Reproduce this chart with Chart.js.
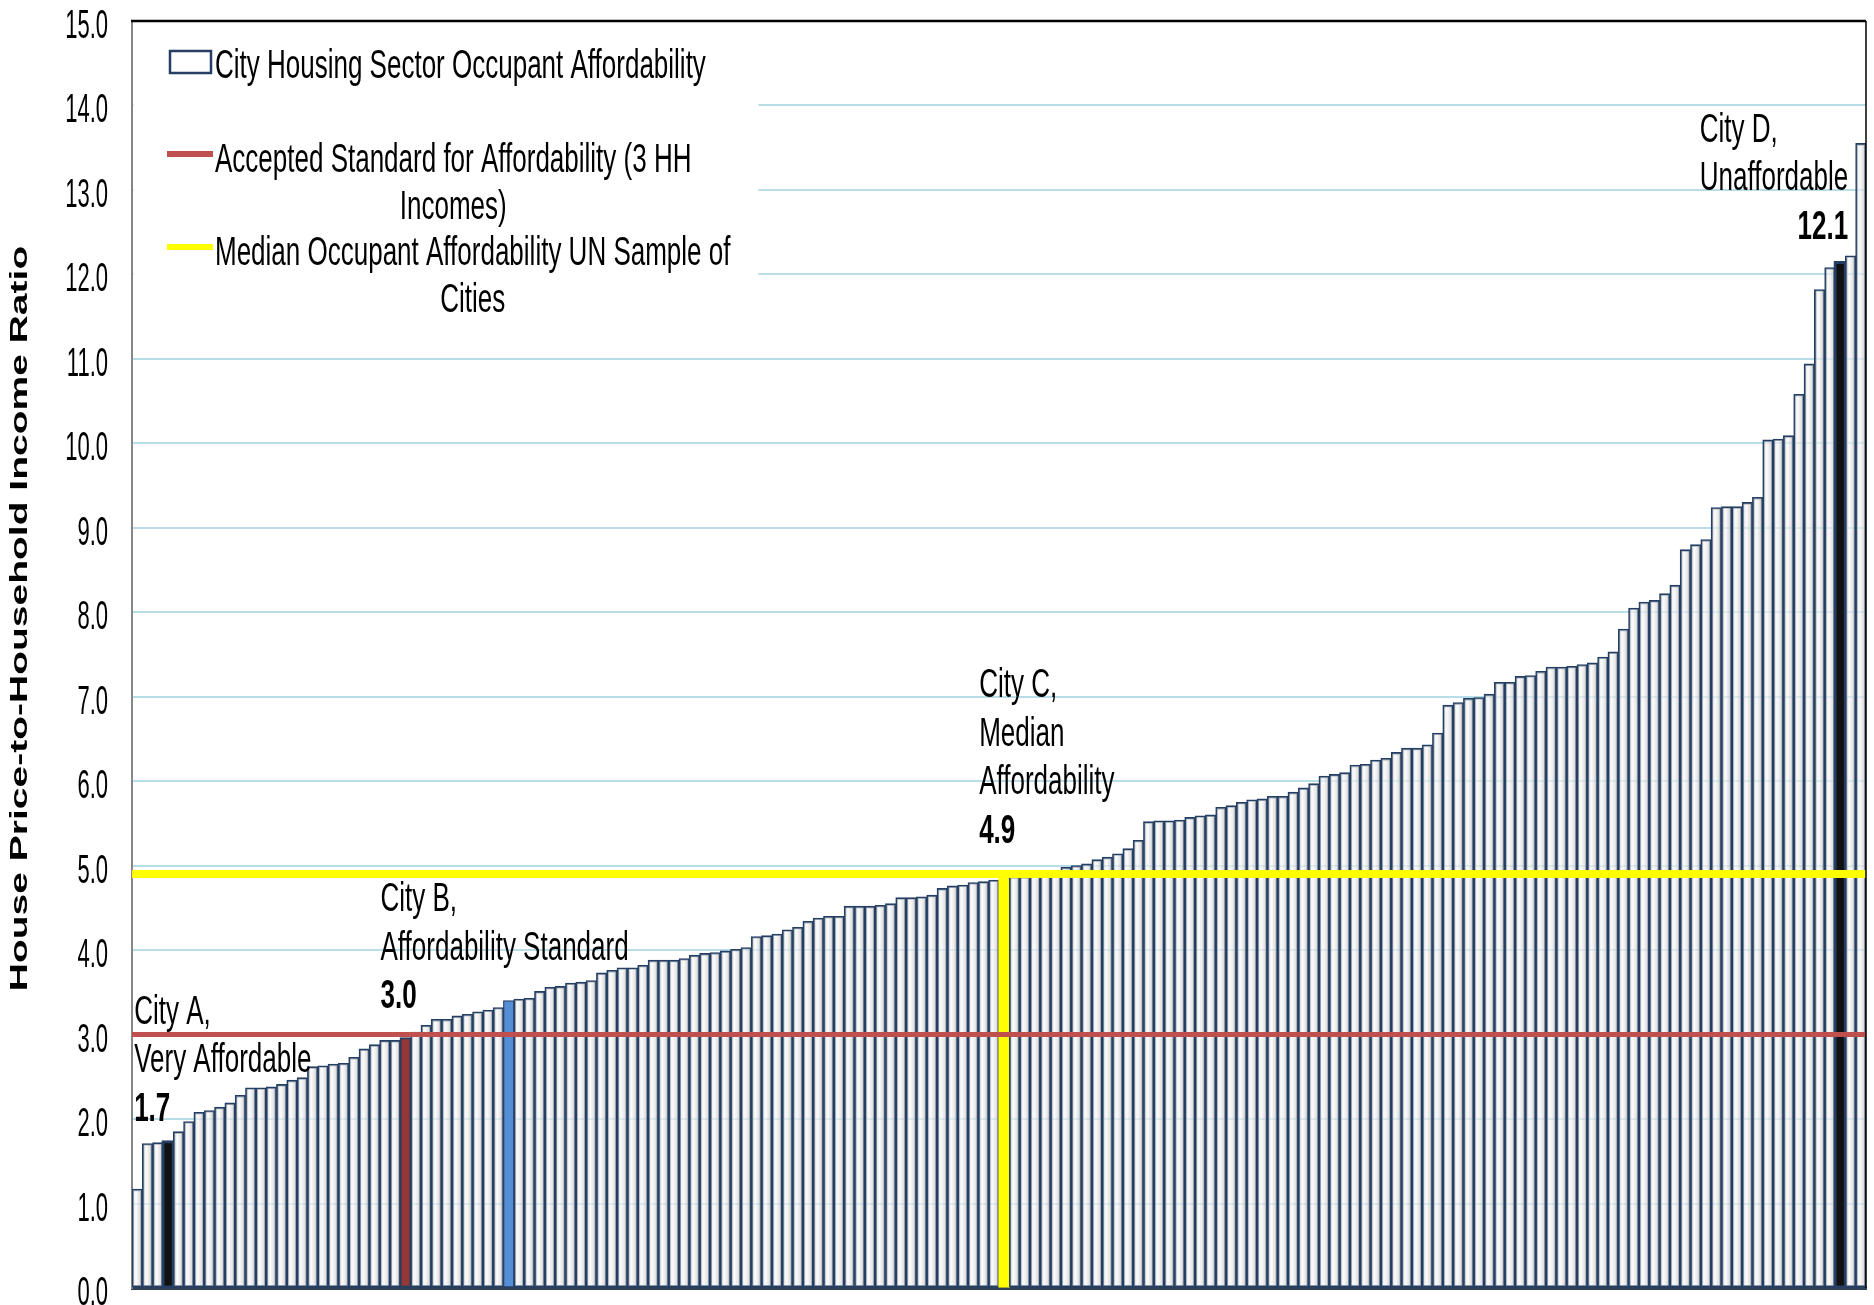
<!DOCTYPE html>
<html>
<head>
<meta charset="utf-8">
<title>House Price-to-Household Income Ratio</title>
<script src="https://cdn.jsdelivr.net/npm/chart.js@4.4.1/dist/chart.umd.min.js"></script>
<style>
  html, body { margin: 0; padding: 0; background: #ffffff; }
  #wrap { width: 1874px; height: 1305px; }
</style>
</head>
<body>
<div id="wrap"><canvas id="chart" width="1874" height="1305"></canvas></div>
<script>
// Occupant affordability of the city sample, sorted from most to least affordable
const ratios = [
  1.17, 1.71, 1.72, 1.73, 1.85, 1.97, 2.08, 2.10, 2.14, 2.19,
  2.28, 2.37, 2.37, 2.38, 2.41, 2.46, 2.49, 2.62, 2.63, 2.65,
  2.66, 2.73, 2.83, 2.88, 2.93, 2.93, 2.96, 3.03, 3.11, 3.18,
  3.18, 3.22, 3.24, 3.27, 3.29, 3.32, 3.40, 3.42, 3.43, 3.51,
  3.56, 3.57, 3.61, 3.62, 3.64, 3.73, 3.76, 3.79, 3.79, 3.82,
  3.88, 3.88, 3.88, 3.90, 3.94, 3.96, 3.97, 3.99, 4.01, 4.03,
  4.16, 4.17, 4.19, 4.24, 4.27, 4.34, 4.38, 4.40, 4.40, 4.52,
  4.52, 4.52, 4.53, 4.55, 4.62, 4.62, 4.63, 4.65, 4.73, 4.76,
  4.77, 4.80, 4.81, 4.83, 4.86, 4.87, 4.87, 4.88, 4.88, 4.89,
  4.98, 5.00, 5.02, 5.07, 5.10, 5.14, 5.20, 5.30, 5.52, 5.53,
  5.53, 5.54, 5.57, 5.59, 5.60, 5.69, 5.71, 5.75, 5.78, 5.79,
  5.82, 5.82, 5.87, 5.92, 5.97, 6.06, 6.08, 6.10, 6.19, 6.20,
  6.25, 6.27, 6.34, 6.39, 6.39, 6.43, 6.57, 6.90, 6.93, 6.98,
  6.99, 7.03, 7.17, 7.17, 7.24, 7.25, 7.30, 7.35, 7.35, 7.36,
  7.38, 7.40, 7.47, 7.53, 7.80, 8.05, 8.12, 8.14, 8.22, 8.32,
  8.74, 8.80, 8.86, 9.24, 9.25, 9.25, 9.30, 9.36, 10.04, 10.05,
  10.09, 10.58, 10.94, 11.82, 12.08, 12.14, 12.22, 13.55
];
// Rank of each city in the sorted sample (category axis)
const categories = ratios.map((_, i) => String(i + 1));

const seriesNames = [
  'City Housing Sector Occupant Affordability',
  'Accepted Standard for Affordability (3 HH Incomes)',
  'Median Occupant Affordability UN Sample of Cities'
];
const standardRatio = 3.0;
const medianRatio = 4.9;

// Named example cities (zero-based rank) and their captions
const cityRanks = [3, 26, 84, 165];
const cityNames = ['City A,', 'City B,', 'City C,', 'City D,'];
const cityNotes = [['Very Affordable'], ['Affordability Standard'], ['Median', 'Affordability'], ['Unaffordable']];
const extraMarkedRank = 36;

const yMin = 0, yMax = 15, yStep = 1;
const yTitle = 'House Price-to-Household Income Ratio';

// ---- styling -------------------------------------------------------------
const FONT = '"Liberation Sans", Arial, sans-serif';
const SQUEEZE = 0.65;
const TEXT_DROP = 4;
const NAVY = '#243f63';
const GRID = '#b7dde8';
const highlight = {};
highlight[cityRanks[0]] = { fill: '#111111', border: NAVY, width: 3, grow: 1.5 };
highlight[cityRanks[1]] = { fill: '#953735', border: NAVY, width: 2, grow: 0.8 };
highlight[cityRanks[2]] = { fill: '#ffff00', border: '#ffff00', width: 1, grow: 0.8 };
highlight[cityRanks[3]] = { fill: '#111111', border: NAVY, width: 3, grow: 1.5 };
highlight[extraMarkedRank] = { fill: '#558ed5', border: NAVY, width: 1.2, grow: 0.5 };

// caption placement relative to the bar: dx from bar centre, dy of value line from bar top
const captionPlace = [
  { dx: -34, dy: -36, align: 'left' },
  { dx: -25, dy: -45, align: 'left' },
  { dx: -25, dy: -50, align: 'left' },
  { dx: 8,   dy: -39, align: 'right' }
];

function squeezeText(ctx, str, x, y, font, align, sx) {
  ctx.save();
  ctx.font = font;
  ctx.translate(x, y + TEXT_DROP);
  ctx.scale(sx, 1);
  ctx.textAlign = align;
  ctx.textBaseline = 'middle';
  ctx.fillStyle = '#000000';
  ctx.fillText(str, 0, 0);
  ctx.restore();
}
function textWidth(ctx, str, font, sx) {
  ctx.save();
  ctx.font = font;
  const w = ctx.measureText(str).width * sx;
  ctx.restore();
  return w;
}
function wrapWords(ctx, str, font, sx, maxW) {
  const words = str.split(' ');
  const lines = [];
  let cur = '';
  words.forEach(w => {
    const t = cur ? cur + ' ' + w : w;
    if (cur && textWidth(ctx, t, font, sx) > maxW) { lines.push(cur); cur = w; }
    else cur = t;
  });
  if (cur) lines.push(cur);
  return lines;
}

function barFill(c) {
  const h = highlight[c.dataIndex];
  if (h) return h.fill;
  const chart = c.chart;
  const xs = chart.scales && chart.scales.x;
  if (!xs || !chart.chartArea) return 'rgba(232,232,232,0.6)';
  const cx = xs.getPixelForValue(c.dataIndex);
  const half = xs.width / ratios.length / 2;
  const g = chart.ctx.createLinearGradient(cx - half, 0, cx + half, 0);
  g.addColorStop(0, 'rgba(214,214,214,0.65)');
  g.addColorStop(0.4, 'rgba(248,248,248,0.65)');
  g.addColorStop(1, 'rgba(188,188,188,0.75)');
  return g;
}

const LEGEND_FONT = '40px ' + FONT;
const LABEL_FONT = '40px ' + FONT;
const VALUE_FONT = 'bold 40px ' + FONT;
const TICK_FONT = '40px ' + FONT;

const decor = {
  id: 'decor',
  beforeDatasetsDraw(chart) {
    // clear the gridlines behind the legend block
    const { ctx, chartArea: a } = chart;
    ctx.save();
    ctx.fillStyle = '#ffffff';
    ctx.fillRect(a.left + 1.5, a.top + 1.5, 757 - a.left, 330 - a.top);
    ctx.restore();
  },
  afterDraw(chart) {
    const { ctx, chartArea: a } = chart;
    const x = chart.scales.x, y = chart.scales.y;

    // frame on top and right
    ctx.save();
    ctx.strokeStyle = '#000000';
    ctx.lineWidth = 2.5;
    ctx.beginPath(); ctx.moveTo(a.left - 1, a.top); ctx.lineTo(a.right, a.top); ctx.stroke();
    ctx.lineWidth = 1.5;
    ctx.beginPath(); ctx.moveTo(a.right, a.top); ctx.lineTo(a.right, a.bottom); ctx.stroke();
    ctx.restore();

    // y tick labels
    y.ticks.forEach((t, i) => {
      squeezeText(ctx, Number(t.value).toFixed(1), a.left - 24, y.getPixelForTick(i) + 2, TICK_FONT, 'right', 0.55);
    });

    // y axis title
    ctx.save();
    ctx.translate(21, (a.top + a.bottom) / 2 - 36);
    ctx.rotate(-Math.PI / 2);
    ctx.scale(1, 0.6);
    ctx.font = 'bold 39px ' + FONT;
    ctx.textAlign = 'center';
    ctx.textBaseline = 'middle';
    ctx.fillStyle = '#000000';
    ctx.fillText(yTitle, 0, 0);
    ctx.restore();

    // legend
    const symX = 170, textX = 215;
    const firstY = [63, 157, 250];
    chart.data.datasets.forEach((ds, i) => {
      const lines = wrapWords(ctx, ds.label, LEGEND_FONT, SQUEEZE, 525);
      const blockW = Math.max(...lines.map(l => textWidth(ctx, l, LEGEND_FONT, SQUEEZE)));
      const cy = firstY[i];
      lines.forEach((l, k) => squeezeText(ctx, l, textX + blockW / 2, cy + k * 47, LEGEND_FONT, 'center', SQUEEZE));
      ctx.save();
      if (ds.type === 'line') {
        ctx.strokeStyle = ds.borderColor;
        ctx.lineWidth = 6;
        ctx.beginPath(); ctx.moveTo(symX - 3, cy - 3); ctx.lineTo(symX + 43, cy - 3); ctx.stroke();
      } else {
        ctx.fillStyle = '#ffffff';
        ctx.strokeStyle = NAVY;
        ctx.lineWidth = 2.5;
        ctx.fillRect(symX, cy - 12, 41, 22);
        ctx.strokeRect(symX, cy - 12, 41, 22);
      }
      ctx.restore();
    });

    // captions of the named cities
    cityRanks.forEach((r, i) => {
      const p = captionPlace[i];
      const v = ratios[r];
      const bx = x.getPixelForValue(r) + p.dx;
      const vy = y.getPixelForValue(v) + p.dy;
      const lines = [cityNames[i]].concat(cityNotes[i]);
      const n = lines.length;
      let left = bx;
      if (p.align === 'right') {
        const w = Math.max(...lines.map(l => textWidth(ctx, l, LABEL_FONT, SQUEEZE)));
        left = bx - w;
      }
      lines.forEach((l, k) => squeezeText(ctx, l, left, vy - (n - k) * 48.5, LABEL_FONT, 'left', SQUEEZE));
      squeezeText(ctx, v.toFixed(1), bx, vy, VALUE_FONT, p.align, SQUEEZE);
    });
  }
};

new Chart(document.getElementById('chart'), {
  type: 'bar',
  data: {
    labels: categories,
    datasets: [
      {
        type: 'bar',
        label: seriesNames[0],
        data: ratios,
        xAxisID: 'x',
        backgroundColor: barFill,
        borderColor: ratios.map((_, i) => highlight[i] ? highlight[i].border : NAVY),
        borderWidth: ratios.map((_, i) => highlight[i] ? highlight[i].width : 1.6),
        inflateAmount: ratios.map((_, i) => highlight[i] ? highlight[i].grow : 0.4),
        borderSkipped: false,
        barPercentage: 1,
        categoryPercentage: 1,
        grouped: false,
        order: 3
      },
      {
        type: 'line',
        label: seriesNames[1],
        data: [{ x: 0, y: standardRatio }, { x: 1, y: standardRatio }],
        xAxisID: 'x2',
        borderColor: '#c0504d',
        borderWidth: 5,
        pointRadius: 0,
        order: 1
      },
      {
        type: 'line',
        label: seriesNames[2],
        data: [{ x: 0, y: medianRatio }, { x: 1, y: medianRatio }],
        xAxisID: 'x2',
        borderColor: '#ffff00',
        borderWidth: 8,
        pointRadius: 0,
        order: 0
      }
    ]
  },
  options: {
    responsive: false,
    animation: false,
    layout: { padding: { left: 132, right: 8, top: 21, bottom: 17 } },
    plugins: { legend: { display: false }, tooltip: { enabled: false } },
    scales: {
      x: {
        type: 'category',
        offset: true,
        grid: { display: false, drawTicks: false },
        ticks: { display: false },
        border: { display: true, color: '#2e3f58', width: 3 }
      },
      x2: {
        type: 'linear', min: 0, max: 1, display: false,
        offset: false, grid: { offset: false }, bounds: 'ticks'
      },
      y: {
        min: yMin, max: yMax,
        ticks: { display: false, stepSize: yStep },
        grid: { color: GRID, lineWidth: 2, drawTicks: false, tickLength: 0 },
        border: { display: true, color: '#868686', width: 2 }
      }
    }
  },
  plugins: [decor]
});
</script>
</body>
</html>
